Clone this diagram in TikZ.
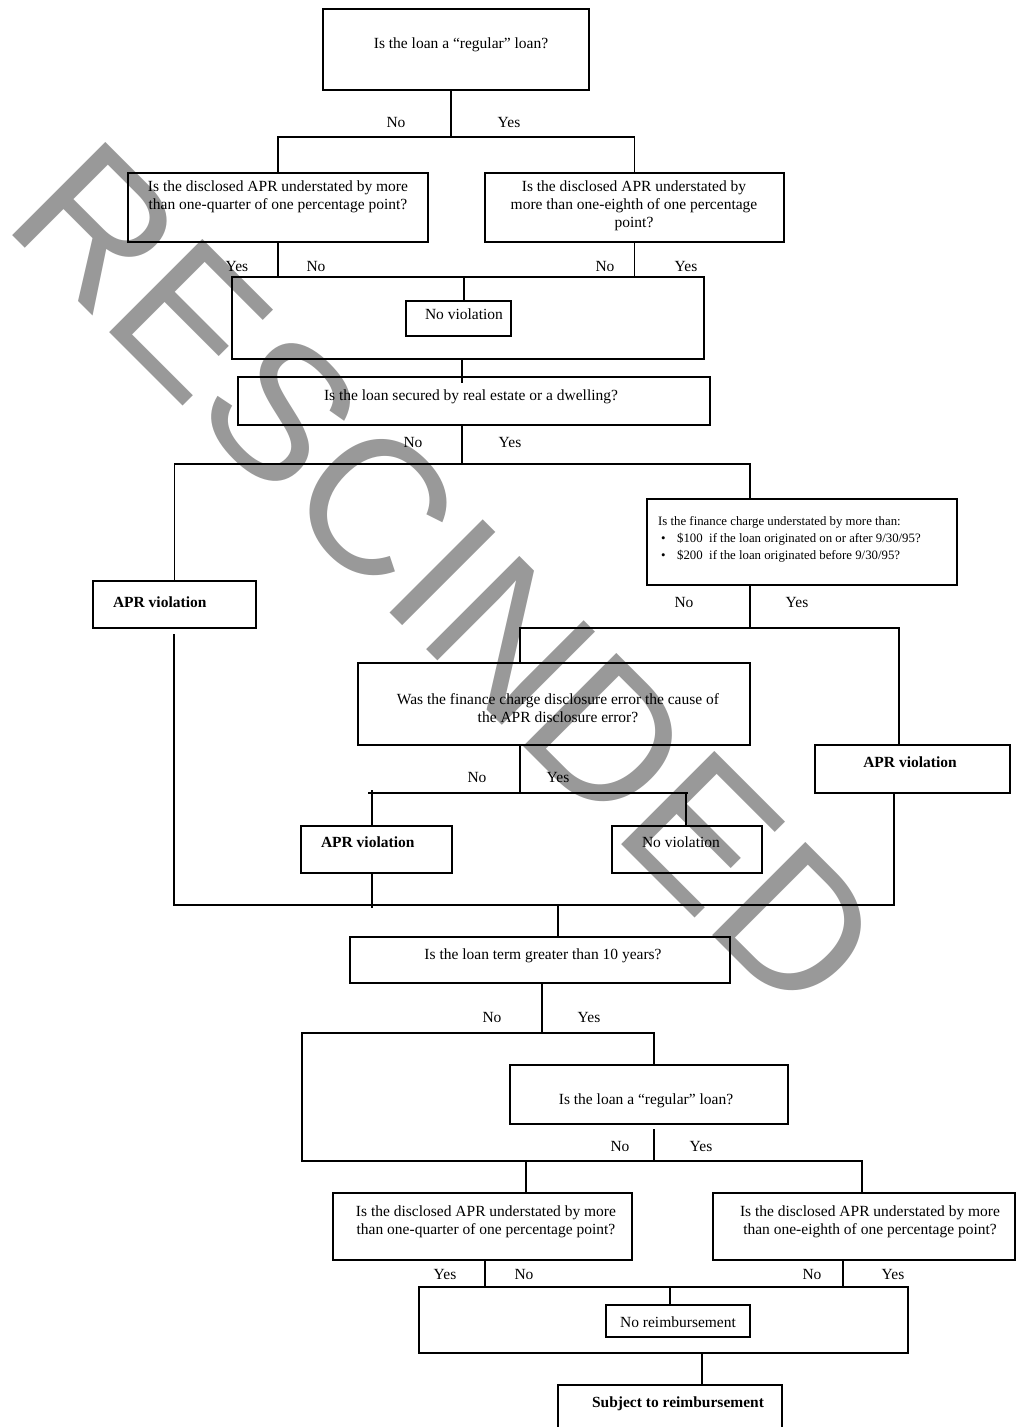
\documentclass[tikz,border=0pt]{standalone}
\usepackage{fontspec}
\setmainfont{Liberation Serif}
\newfontfamily\wmfont{Liberation Sans}
\usetikzlibrary{calc}
\begin{document}
\begin{tikzpicture}[x=1pt,y=-1pt,
  box/.style={draw, line width=1.9pt, inner sep=0pt, outer sep=0pt},
  conn/.style={line width=1.3pt},
  txt/.style={inner sep=0pt, outer sep=0pt, font=\fontsize{15.5}{18}\selectfont},
  lbl/.style={txt, anchor=base},
  ml/.style={txt, anchor=north, align=center},
  lt/.style={txt, anchor=base west},
]
\useasboundingbox (0,0) rectangle (1016,1427);
\clip (0,0) rectangle (1016,1427);
\fill[white] (0,0) rectangle (1016,1427);

% watermark
\node[anchor=base west, rotate=-45, inner sep=0pt, text=black!40,
      font=\wmfont\fontsize{191.6}{191.6}\selectfont] (wm) at (1,224) {RESCINDED};

% boxes
\node[box, minimum width=266pt, minimum height=81pt] (A) at (456,49.5) {};
\node[box, minimum width=300pt, minimum height=69pt] (B1) at (278,207.5) {};
\node[box, minimum width=299pt, minimum height=69pt] (B2) at (634.5,207.5) {};
\node[box, minimum width=472pt, minimum height=82pt] (C) at (468,318) {};
\node[box, minimum width=105pt, minimum height=35pt] (NV1) at (458.5,318.5) {};
\node[box, minimum width=472pt, minimum height=48pt] (D) at (474,401) {};
\node[box, minimum width=163pt, minimum height=47pt] (E1) at (174.5,604.5) {};
\node[box, minimum width=310pt, minimum height=86pt] (F) at (802,542) {};
\node[box, minimum width=392pt, minimum height=82pt] (G) at (554,704) {};
\node[box, minimum width=195pt, minimum height=48pt] (E3) at (912.5,769) {};
\node[box, minimum width=151pt, minimum height=47pt] (E2) at (376.5,849.5) {};
\node[box, minimum width=150pt, minimum height=47pt] (H) at (687,849.5) {};
\node[box, minimum width=380pt, minimum height=46pt] (I) at (540,960) {};
\node[box, minimum width=278pt, minimum height=59pt] (J) at (649,1094.5) {};
\node[box, minimum width=299pt, minimum height=67pt] (K1) at (482.5,1226.5) {};
\node[box, minimum width=302pt, minimum height=67pt] (K2) at (864,1226.5) {};
\node[box, minimum width=489pt, minimum height=66pt] (L) at (663.5,1320) {};
\node[box, minimum width=144pt, minimum height=32pt] (NR) at (678,1321) {};
\node[box, minimum width=224pt, minimum height=60pt] (M) at (670,1415) {};

% box texts
\node[lbl] (tA) at (461,48.5) {Is the loan a “regular” loan?};
\node[ml] (tB1) at (278,178.9) {\strut Is the disclosed APR understated by more\\than one-quarter of one percentage point?};
\node[ml] (tB2) at (634,178.9) {\strut Is the disclosed APR understated by\\more than one-eighth of one percentage\\point?};
\node[lbl] (tNV1) at (464,319.5) {No violation};
\node[lbl] (tD) at (471,400.5) {Is the loan secured by real estate or a dwelling?};
\node[lt] (tE1) at (113,607.5) {\textbf{APR violation}};
\node[anchor=north west, align=left, inner sep=0pt, font=\fontsize{12.8}{17}\selectfont] (tF) at (658,513)
  {\strut Is the finance charge understated by more than:\\
   \hspace*{3pt}\makebox[16pt][l]{•}\$100~~if the loan originated on or after 9/30/95?\\
   \hspace*{3pt}\makebox[16pt][l]{•}\$200~~if the loan originated before 9/30/95?};
\node[ml] (tG) at (558,691.9) {\strut Was the finance charge disclosure error the cause of\\the APR disclosure error?};
\node[lbl] (tE3) at (910,767.5) {\textbf{APR violation}};
\node[lt] (tE2) at (321,847.5) {\textbf{APR violation}};
\node[lbl] (tH) at (681,847.5) {No violation};
\node[lbl] (tI) at (543,959.5) {Is the loan term greater than 10 years?};
\node[lbl] (tJ) at (646,1104) {Is the loan a “regular” loan?};
\node[ml] (tK1) at (486,1203.9) {\strut Is the disclosed APR understated by more\\than one-quarter of one percentage point?};
\node[ml] (tK2) at (870,1203.9) {\strut Is the disclosed APR understated by more\\than one-eighth of one percentage point?};
\node[lbl] (tNR) at (678,1327.5) {No reimbursement};
\node[lbl] (tM) at (678,1407.5) {\textbf{Subject to reimbursement}};

% junction coordinates
\coordinate (j1) at (451,137);
\coordinate (j2) at (462,464);
\coordinate (j3) at (750,628);
\coordinate (j3r) at (899,628);
\coordinate (j4) at (520,793);
\coordinate (e2in) at (372,793);
\coordinate (hin) at (686,793);
\coordinate (j5) at (558,905);
\coordinate (e3out) at (894,905);
\coordinate (j6) at (542,1033);
\coordinate (lft) at (302,1161);
\coordinate (j7) at (654,1161);
\coordinate (k1in) at (526,1161);
\coordinate (k2in) at (862,1161);
\coordinate (k1out) at (485,1287);
\coordinate (k2out) at (843,1287);
\coordinate (nrin) at (670,1287);
\coordinate (lout) at (702,1353);

% connectors
\draw[conn] (A.south -| j1) -- (j1);
\draw[conn] (B1.north) |- (j1) -| (B2.north);
\draw[conn] (B1.south) -- (B1.south |- C.north);
\draw[conn] (B2.south) -- (B2.south |- C.north);
\draw[conn] ($(NV1.north)+(5.5,0)$) -- ($(NV1.north |- C.north)+(5.5,0)$);
\draw[conn] (C.south -| j2) -- ($(D.north -| j2)+(0,6)$);
\draw[conn] (D.south -| j2) -- (j2);
\draw[conn] (E1.north) |- (j2) -- (j2 -| j3) -- (F.north -| j3);
\draw[conn] (F.south -| j3) -- (j3);
\draw[conn] (G.north -| j4) -- (j4 |- j3) -- (j3r) -- (E3.north -| j3r);
\draw[conn] (G.south -| j4) -- (j4);
\draw[conn] ($(e2in)+(-4,0)$) -- ($(hin)+(2,0)$);
\draw[conn] ($(e2in)+(0,-3)$) -- (E2.north -| e2in);
\draw[conn] (hin) -- (H.north -| hin);
\draw[conn] ($(E1.south)+(-0.5,6)$) -- ($(E1.south |- j5)+(-0.5,0)$) -- (e3out) -- (E3.south -| e3out);
\draw[conn] (E2.south -| e2in) -- ($(e2in |- j5)+(0,3)$);
\draw[conn] (j5) -- (I.north -| j5);
\draw[conn] (I.south -| j6) -- (j6);
\draw[conn] (J.north -| j7) |- (j6) -| (lft) -- (k2in) -- (K2.north -| k2in);
\draw[conn] ($(J.south -| j7)+(0,5)$) -- (j7);
\draw[conn] (k1in) -- (K1.north -| k1in);
\draw[conn] (K1.south -| k1out) -- (k1out);
\draw[conn] (K2.south -| k2out) -- (k2out);
\draw[conn] (nrin) -- (NR.north -| nrin);
\draw[conn] (lout) -- (M.north -| lout);

% yes/no labels
\node[lbl] (l1) at (396,127.5) {No};
\node[lbl] (l2) at (509,127.5) {Yes};
\node[lbl] (l3) at (237,271) {Yes};
\node[lbl] (l4) at (316,271) {No};
\node[lbl] (l5) at (605,271) {No};
\node[lbl] (l6) at (686,271) {Yes};
\node[lbl] (l7) at (413,447.5) {No};
\node[lbl] (l8) at (510,447.5) {Yes};
\node[lbl] (l9) at (684,607.5) {No};
\node[lbl] (l10) at (797,607.5) {Yes};
\node[lbl] (l11) at (477,782.5) {No};
\node[lbl] (l12) at (558,782.5) {Yes};
\node[lbl] (l13) at (492,1022.5) {No};
\node[lbl] (l14) at (589,1022.5) {Yes};
\node[lbl] (l15) at (620,1151) {No};
\node[lbl] (l16) at (701,1151) {Yes};
\node[lbl] (l17) at (445,1279.5) {Yes};
\node[lbl] (l18) at (524,1279.5) {No};
\node[lbl] (l19) at (812,1279.5) {No};
\node[lbl] (l20) at (893,1279.5) {Yes};
\end{tikzpicture}
\end{document}
